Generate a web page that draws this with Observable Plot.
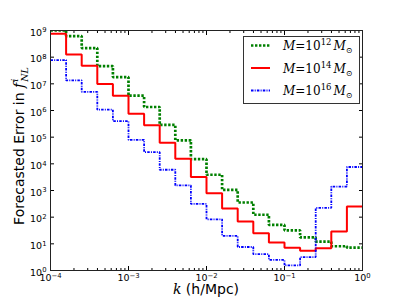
<!DOCTYPE html>
<html>
<head>
<meta charset="utf-8">
<script src="https://cdn.jsdelivr.net/npm/d3@7"></script>
<script src="https://cdn.jsdelivr.net/npm/@observablehq/plot@0.6"></script>
<style>
  html, body { margin: 0; padding: 0; background: #fff; }
  svg { display: block; }
</style>
</head>
<body>
<div id="chart"></div>
<script>
// Bin edges in k (h/Mpc), 0.2 dex wide
const kEdges = [1e-4, 1.585e-4, 2.512e-4, 3.981e-4, 6.310e-4,
  1e-3, 1.585e-3, 2.512e-3, 3.981e-3, 6.310e-3,
  1e-2, 1.585e-2, 2.512e-2, 3.981e-2, 6.310e-2,
  1e-1, 1.585e-1, 2.512e-1, 3.981e-1, 6.310e-1, 1];

// Forecasted error per bin
const errM12 = [1.0e9, 6.2e8, 2.2e8, 4.6e7, 1.8e7, 3.6e6, 1.35e6, 2.9e5, 7.6e4, 1.5e4,
  3.9e3, 1.05e3, 355, 123, 51, 32, 17.4, 12, 8.1, 7.2];
const errM14 = [7.6e8, 1.26e8, 4.8e7, 9.8e6, 3.6e6, 7.6e5, 2.8e5, 6.2e4, 1.55e4, 3.2e3,
  790, 210, 69, 25, 11.2, 7.2, 5.5, 6.9, 29, 250];
const errM16 = [7.8e7, 1.35e7, 5.0e6, 1.07e6, 4.0e5, 7.9e4, 2.75e4, 6.0e3, 1.55e3, 316,
  83, 20, 7.6, 4.1, 2.5, 1.55, 3.2, 224, 1.4e3, 7.6e3];

const xMajor = [1e-4, 1e-3, 1e-2, 1e-1, 1];
const xMinor = [];
[1e-4, 1e-3, 1e-2, 1e-1].forEach(d => { for (let m = 2; m <= 9; m++) xMinor.push(d * m); });
const yMajor = [1, 1e1, 1e2, 1e3, 1e4, 1e5, 1e6, 1e7, 1e8, 1e9];
const xTickLabels = ["10|−4", "10|−3", "10|−2", "10|−1", "10|0"];
const yTickLabels = ["10|0", "10|1", "10|2", "10|3", "10|4", "10|5", "10|6", "10|7", "10|8", "10|9"];

const greenDash = "2.4,1.6";
const blueDash = "2.5,1.2,1,1.2";

function steps(vals) {
  const rows = vals.map((v, i) => ({k: kEdges[i], v}));
  rows.push({k: kEdges[vals.length], v: vals[vals.length - 1]});
  return rows;
}

const lineOpts = {x: "k", y: "v", curve: "step-after", strokeLinecap: "butt", strokeLinejoin: "miter", clip: true};

const chart = Plot.plot({
  width: 402,
  height: 301,
  marginLeft: 50,
  marginRight: 40,
  marginTop: 30,
  marginBottom: 31,
  style: {fontFamily: "DejaVu Sans", fontSize: "9.5px", color: "black", background: "white"},
  x: {type: "log", domain: [1e-4, 1]},
  y: {type: "log", domain: [1, 1e9]},
  marks: [
    Plot.line(steps(errM12), {...lineOpts, stroke: "#008000", strokeWidth: 2.7, strokeDasharray: greenDash}),
    Plot.line(steps(errM14), {...lineOpts, stroke: "#ff0000", strokeWidth: 2}),
    Plot.line(steps(errM16), {...lineOpts, stroke: "#0000ff", strokeWidth: 1.8, strokeDasharray: blueDash}),
    // inward ticks
    Plot.axisX({anchor: "bottom", ticks: xMajor, tickSize: -4, tickFormat: () => "", label: null}),
    Plot.axisX({anchor: "top", ticks: xMajor, tickSize: -4, tickFormat: () => "", label: null}),
    Plot.axisX({anchor: "bottom", ticks: xMinor, tickSize: -2, tickFormat: () => "", label: null}),
    Plot.axisX({anchor: "top", ticks: xMinor, tickSize: -2, tickFormat: () => "", label: null}),
    Plot.axisY({anchor: "left", ticks: yMajor, tickSize: -4, tickFormat: () => "", label: null}),
    Plot.axisY({anchor: "right", ticks: yMajor, tickSize: -4, tickFormat: () => "", label: null}),
    // tick labels
    Plot.axisX({anchor: "bottom", ticks: xMajor, tickSize: 0, tickPadding: 4,
      tickFormat: d => xTickLabels[xMajor.indexOf(d)], label: null}),
    Plot.axisY({anchor: "left", ticks: yMajor, tickSize: 0, tickPadding: 4, dy: 2,
      tickFormat: d => yTickLabels[yMajor.indexOf(d)], label: null}),
    Plot.frame({stroke: "#222", strokeWidth: 1})
  ]
});

const svg = d3.select(chart);

// superscripts in tick labels
svg.selectAll("text").each(function() {
  const t = this.textContent;
  if (t.includes("|")) {
    const [base, exp] = t.split("|");
    const sel = d3.select(this);
    sel.text(null);
    sel.append("tspan").text(base);
    sel.append("tspan").attr("dy", "-0.45em").attr("font-size", "0.72em").text(exp);
  }
});

// Axis labels
const xl = svg.append("text").attr("x", 206).attr("y", 294).attr("text-anchor", "middle")
  .attr("font-size", 14).attr("font-family", "DejaVu Sans").attr("fill", "black");
xl.append("tspan").attr("font-family", "DejaVu Serif").attr("font-style", "italic").text("k");
xl.append("tspan").text(" (h/Mpc)");

const yl = svg.append("text").attr("transform", "translate(24,146) rotate(-90)").attr("text-anchor", "middle")
  .attr("font-size", 14).attr("font-family", "DejaVu Sans").attr("fill", "black");
yl.append("tspan").text("Forecasted Error in ");
yl.append("tspan").attr("font-family", "DejaVu Serif").attr("font-style", "italic").text("f");
yl.append("tspan").attr("font-family", "DejaVu Serif").attr("font-style", "italic").attr("font-size", 9.5).attr("dy", -6).attr("dx", 1).text("i");
yl.append("tspan").attr("font-family", "DejaVu Serif").attr("font-style", "italic").attr("font-size", 9.5).attr("dy", 9.5).attr("dx", -3).text("NL");

// Legend
const legendItems = [
  {exp: "12", stroke: "#008000", w: 2.7, dash: greenDash},
  {exp: "14", stroke: "#ff0000", w: 2, dash: null},
  {exp: "16", stroke: "#0000ff", w: 1.8, dash: blueDash}
];
const lg = svg.append("g").attr("text-anchor", "start");
lg.append("rect").attr("x", 243.5).attr("y", 36.5).attr("width", 116).attr("height", 67)
  .attr("fill", "white").attr("stroke", "#333").attr("stroke-width", 1);
const rowY = [45.5, 68, 90.5];
legendItems.forEach((it, i) => {
  const y = rowY[i];
  lg.append("line").attr("x1", 251).attr("x2", 270).attr("y1", y).attr("y2", y)
    .attr("stroke", it.stroke).attr("stroke-width", it.w).attr("stroke-dasharray", it.dash)
    .attr("stroke-linecap", "butt");
  const t = lg.append("text").attr("x", 283).attr("y", y + 4.5).attr("font-family", "DejaVu Serif")
    .attr("text-anchor", "start").attr("font-size", 12).attr("fill", "black");
  t.append("tspan").attr("font-style", "italic").text("M");
  t.append("tspan").text("=10");
  t.append("tspan").attr("font-size", 8.5).attr("dy", -5).text(it.exp);
  t.append("tspan").attr("font-style", "italic").attr("dy", 5).attr("dx", 2).text("M");
  t.append("tspan").attr("font-size", 8).attr("dy", 3).text("⊙");
});

document.getElementById("chart").appendChild(chart);
</script>
</body>
</html>
